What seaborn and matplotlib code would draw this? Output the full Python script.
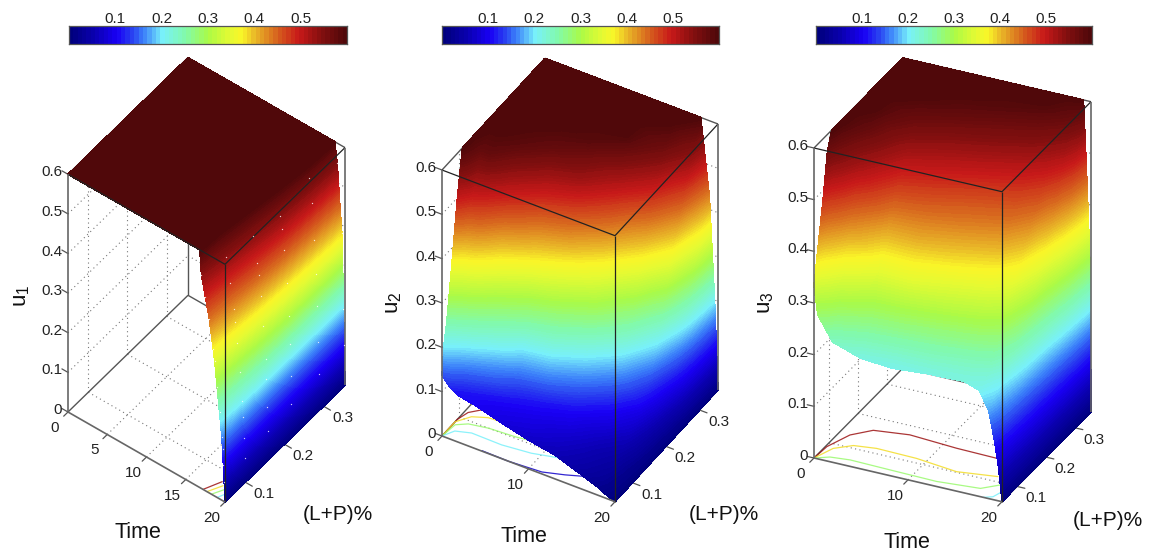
"""Three optimal-control surfaces u1, u2, u3 over time and (L+P)%, MATLAB style box plots."""
import matplotlib.pyplot as plt
import numpy as np
import seaborn as sns
from matplotlib.colors import LinearSegmentedColormap

# scale of the colour bars
color_stops = [0, .05, .1, .13, .16, .2, .25, .3, .35, .375, .4, .45, .5, .55, .6]
color_rgb = [(0, 0, 125), (10, 0, 175), (25, 0, 245), (40, 60, 240), (60, 130, 250), (120, 240, 250),
             (130, 250, 170), (170, 250, 70), (230, 250, 50), (250, 245, 40), (235, 190, 40),
             (215, 100, 30), (200, 25, 25), (130, 15, 15), (80, 8, 10)]
bar_ticks = [.1, .2, .3, .4, .5]
u_ticks = [0, .1, .2, .3, .4, .5, .6]
lp_ticks = [.1, .2, .3]
U_MAX = .6
T_MAX = 20
LP_MIN = .048
LP_MAX = .355

# u1: plateau, then a wall just before t = 20
time_1 = [0, 16.8, 17, 17.5, 18, 18.5, 18.7, 19, 19.3, 19.6, 19.7, 19.8, 19.9, 20]
lp_1 = [.048, .1, .16, .22, .29, .355]
u_1 = [[.6, .6, .6, .6, .6, .6],
       [.6, .6, .6, .6, .6, .6],
       [.54, .6, .6, .6, .6, .6],
       [.49, .54, .6, .6, .6, .6],
       [.44, .48, .54, .6, .6, .6],
       [.37, .42, .48, .54, .6, .6],
       [.34, .39, .45, .51, .57, .6],
       [.28, .34, .40, .46, .51, .55],
       [.22, .27, .33, .38, .42, .46],
       [.16, .20, .25, .30, .34, .38],
       [.13, .16, .20, .23, .26, .29],
       [.09, .11, .13, .15, .17, .19],
       [.05, .06, .07, .08, .09, .10],
       [0, 0, 0, 0, 0, 0]]

lp_grid = [.048, .054, .063, .079, .094, .109, .14, .171, .202, .232, .263, .294, .324, .355]

time_2 = [0, 1, 2, 4, 7, 10, 13, 16, 18, 19, 19.6, 20]
u_2 = [[.137, .2, .25, .375, .5, .6, .6, .6, .6, .6, .6, .6, .6, .6],
       [.115, .15, .2, .31, .41, .49, .58, .6, .6, .6, .6, .6, .6, .6],
       [.105, .11, .15, .26, .375, .46, .58, .6, .6, .6, .6, .6, .6, .6],
       [.097, .1, .105, .17, .25, .34, .49, .585, .6, .6, .6, .6, .6, .6],
       [.08, .085, .09, .105, .145, .195, .375, .49, .58, .6, .6, .6, .6, .6],
       [.065, .07, .08, .09, .105, .16, .28, .42, .53, .59, .6, .6, .6, .6],
       [.054, .055, .06, .07, .085, .1, .19, .31, .42, .51, .6, .6, .6, .6],
       [.033, .035, .04, .045, .05, .06, .1, .18, .27, .38, .49, .57, .6, .6],
       [.018, .02, .025, .03, .035, .04, .06, .09, .14, .22, .35, .45, .54, .6],
       [.008, .01, .012, .015, .018, .02, .03, .04, .06, .09, .16, .26, .36, .43],
       [.003, .004, .005, .006, .007, .008, .012, .015, .02, .03, .06, .09, .13, .2],
       [0, 0, 0, 0, 0, 0, 0, 0, 0, 0, 0, 0, 0, 0]]

time_3 = [0, .4, 2, 5, 8.4, 12, 16, 17.6, 18.6, 19.2, 19.6, 19.9, 20]
u_3 = [[.335, .36, .405, .48, .565, .6, .6, .6, .6, .6, .6, .6, .6, .6],
       [.279, .31, .36, .43, .5, .56, .6, .6, .6, .6, .6, .6, .6, .6],
       [.233, .245, .27, .33, .385, .44, .53, .58, .6, .6, .6, .6, .6, .6],
       [.214, .22, .235, .27, .305, .345, .41, .47, .52, .57, .6, .6, .6, .6],
       [.209, .213, .225, .26, .3, .35, .41, .45, .49, .53, .58, .6, .6, .6],
       [.214, .216, .225, .25, .28, .32, .385, .43, .46, .50, .55, .59, .6, .6],
       [.216, .216, .22, .235, .26, .29, .35, .40, .44, .47, .51, .56, .6, .6],
       [.205, .21, .215, .225, .245, .27, .32, .36, .40, .44, .48, .53, .58, .6],
       [.17, .18, .19, .2, .21, .22, .25, .28, .32, .36, .42, .49, .56, .6],
       [.115, .12, .13, .14, .15, .16, .18, .2, .22, .25, .31, .4, .5, .6],
       [.07, .07, .08, .085, .09, .095, .11, .12, .14, .16, .2, .27, .36, .43],
       [.02, .02, .025, .03, .03, .035, .04, .05, .055, .065, .08, .11, .16, .28],
       [0, 0, 0, 0, 0, 0, 0, 0, 0, 0, 0, 0, 0, 0]]

# floor contours as (level, time, lp)
contours_1 = [(.53, [17.2, 18.1], [.048, .079]),
              (.385, [17.7, 18.5], [.048, .073]),
              (.28, [18.3, 18.9], [.049, .067]),
              (.2, [19, 19.3], [.048, .059])]
contours_2 = [(.53, [0, 0, 0, .38, 1.35], [.048, .076, .094, .116, .132]),
              (.385, [0, 0, 1, 2.5, 4.4], [.048, .087, .110, .121, .123]),
              (.28, [0, .24, 1.3, 3.4, 6.3, 8.4], [.048, .081, .093, .1, .103, .108]),
              (.2, [0, .7, 2.3, 5.8, 9, 12], [.048, .068, .077, .076, .082, .095]),
              (.07, [4.6, 7.7, 11.4, 13.6, 15.7], [.049, .048, .052, .064, .078])]
contours_3 = [(.53, [0, .14, 1.14, 2.76, 6.3, 11.5, 15.8, 17], [.048, .088, .135, .163, .174, .167, .165, .165]),
              (.385, [0, .84, 2.34, 4.6, 8.9, 13.5, 17.5], [.048, .087, .108, .115, .113, .102, .115]),
              (.28, [0, 1.3, 3.3, 7.6, 12.6, 17, 18.4], [.048, .061, .066, .064, .062, .071, .093]),
              (.2, [18, 18.8, 19.1], [.048, .056, .073])]

# pixel geometry of the three boxes: origin is t=0, lp=min, u=0
panels = [
    dict(name="u$_1$", origin=(68, 412), time_vec=(157, 90), lp_vec=(120, -116.7), height=237.7,
         time=time_1, lp=lp_1, u=u_1, contours=contours_1, time_ticks=[0, 5, 10, 15, 20],
         bar=(69, 347), time_pos=(138, 532), lp_pos=(338, 514), u_pos=(22, 296)),
    dict(name="u$_2$", origin=(442, 436), time_vec=(173, 65.7), lp_vec=(103, -111.7), height=266,
         time=time_2, lp=lp_grid, u=u_2, contours=contours_2, time_ticks=[0, 10, 20],
         bar=(442, 719), time_pos=(524, 537), lp_pos=(724, 515), u_pos=(393, 303)),
    dict(name="u$_3$", origin=(814, 458), time_vec=(188, 43.7), lp_vec=(89, -90), height=310,
         time=time_3, lp=lp_grid, u=u_3, contours=contours_3, time_ticks=[0, 10, 20],
         bar=(816, 1092), time_pos=(907, 543), lp_pos=(1108, 521), u_pos=(765, 303)),
]

W, H = 1150, 555


def project(p, t, lp, u):
    s = np.asarray(t, dtype=float) / T_MAX
    r = (np.asarray(lp, dtype=float) - LP_MIN) / (LP_MAX - LP_MIN)
    f = np.asarray(u, dtype=float) / U_MAX
    x = p["origin"][0] + s * p["time_vec"][0] + r * p["lp_vec"][0]
    y = p["origin"][1] + s * p["time_vec"][1] + r * p["lp_vec"][1] - f * p["height"]
    return x, y


def seg(ax, p, a, b, **kw):
    x0, y0 = project(p, *a)
    x1, y1 = project(p, *b)
    ax.plot([x0, x1], [y0, y1], solid_capstyle="butt", **kw)


def draw_colorbar(fig, p, cmap):
    left, right = p["bar"]
    cax = fig.add_axes([left / W, 1 - 44 / H, (right - left) / W, 18 / H])
    levels = np.linspace(0, U_MAX, 64)[None, :]
    sns.heatmap(levels, ax=cax, cmap=cmap, vmin=0, vmax=U_MAX, cbar=False, xticklabels=False, yticklabels=False)
    cax.set_xticks([v / U_MAX * 64 for v in bar_ticks])
    cax.set_xticklabels([f"{v:.1f}" for v in bar_ticks], fontsize=11, color="#222222")
    cax.tick_params(axis="x", top=True, bottom=True, labeltop=True, labelbottom=False,
                    direction="in", length=2.5, width=.7, color="#333333", pad=0)
    for sp in cax.spines.values():
        sp.set_visible(True)
        sp.set_color("#555555")
        sp.set_linewidth(.9)


def draw_box_back(ax, p):
    grid = dict(color="#777777", lw=.8, ls=(0, (1, 3)), zorder=1)
    for t in p["time_ticks"][1:-1]:
        seg(ax, p, (t, LP_MIN, 0), (t, LP_MAX, 0), **grid)
        seg(ax, p, (t, LP_MAX, 0), (t, LP_MAX, U_MAX), **grid)
    for lp in lp_ticks:
        seg(ax, p, (0, lp, 0), (T_MAX, lp, 0), **grid)
        seg(ax, p, (0, lp, 0), (0, lp, U_MAX), **grid)
    for u in u_ticks[1:-1]:
        seg(ax, p, (0, LP_MIN, u), (0, LP_MAX, u), **grid)
        seg(ax, p, (0, LP_MAX, u), (T_MAX, LP_MAX, u), **grid)
    line = dict(color="#555555", lw=1.0, zorder=1)
    seg(ax, p, (0, LP_MIN, 0), (0, LP_MAX, 0), **line)
    seg(ax, p, (0, LP_MAX, 0), (T_MAX, LP_MAX, 0), **line)
    seg(ax, p, (0, LP_MAX, 0), (0, LP_MAX, U_MAX), **line)
    seg(ax, p, (0, LP_MIN, U_MAX), (0, LP_MAX, U_MAX), **line)
    seg(ax, p, (0, LP_MAX, U_MAX), (T_MAX, LP_MAX, U_MAX), **line)
    seg(ax, p, (T_MAX, LP_MIN, 0), (T_MAX, LP_MAX, 0), **line)


def draw_box_front(ax, p):
    front = dict(color="#222222", lw=.9, zorder=4)
    seg(ax, p, (T_MAX, LP_MIN, 0), (T_MAX, LP_MIN, U_MAX), **front)
    seg(ax, p, (0, LP_MIN, U_MAX), (T_MAX, LP_MIN, U_MAX), **front)
    seg(ax, p, (T_MAX, LP_MIN, U_MAX), (T_MAX, LP_MAX, U_MAX), **front)
    axis = dict(color="#666666", lw=1.2, zorder=4)
    seg(ax, p, (0, LP_MIN, 0), (0, LP_MIN, U_MAX), **axis)
    seg(ax, p, (T_MAX, LP_MAX, 0), (T_MAX, LP_MAX, U_MAX), **axis)
    seg(ax, p, (0, LP_MIN, 0), (T_MAX, LP_MIN, 0), **axis)


def draw_ticks(ax, p):
    tv = np.array(p["time_vec"]) / np.hypot(*p["time_vec"])
    lv = np.array(p["lp_vec"]) / np.hypot(*p["lp_vec"])
    text = dict(fontsize=11, color="#222222")
    tick = dict(color="#555555", lw=.9)
    for u in u_ticks:
        x, y = project(p, 0, LP_MIN, u)
        ax.plot([x, x - 7 * tv[0]], [y, y - 7 * tv[1]], **tick)
        ax.text(x - 6, y - 2, f"{u:g}", ha="right", va="center", **text)
    for t in p["time_ticks"]:
        x, y = project(p, t, LP_MIN, 0)
        ax.plot([x, x - 6 * lv[0]], [y, y - 6 * lv[1]], **tick)
        ax.text(x - 13, y + 16, f"{t:g}", ha="center", va="center", **text)
    for lp in lp_ticks:
        x, y = project(p, T_MAX, lp, 0)
        ax.plot([x, x + 8 * tv[0]], [y, y + 8 * tv[1]], **tick)
        ax.text(x + 19, y + 12, f"{lp:g}", ha="center", va="center", **text)
    ax.text(*p["time_pos"], "Time", ha="center", va="center", fontsize=15.5, color="#111111")
    ax.text(*p["lp_pos"], "(L+P)%", ha="center", va="center", fontsize=15, color="#111111")
    ax.text(*p["u_pos"], p["name"], ha="center", va="center", rotation=90, fontsize=16, color="#111111")


def draw_surface(ax, p, cmap):
    lp = np.array(p["lp"], dtype=float)[::-1]
    t = np.array(p["time"], dtype=float)
    u = np.array(p["u"], dtype=float)[:, ::-1]
    tt, ll = np.meshgrid(t, lp, indexing="ij")
    x, y = project(p, tt, ll, u)
    # the bands follow u exactly, fine enough to read as a smooth shade
    bands = np.linspace(0, U_MAX, 129)
    bands[0], bands[-1] = -.001, U_MAX + .001
    filled = ax.contourf(x, y, u, levels=bands, cmap=cmap, vmin=0, vmax=U_MAX, zorder=3)
    filled.set_edgecolor("face")
    filled.set_linewidth(.4)


def main():
    sns.set_theme(style="white")
    plt.rcParams["font.family"] = ["Liberation Sans", "DejaVu Sans"]
    plt.rcParams["mathtext.default"] = "regular"
    cmap = LinearSegmentedColormap.from_list(
        "jet_scan", [(v / U_MAX, tuple(c / 255 for c in rgb)) for v, rgb in zip(color_stops, color_rgb)])

    fig = plt.figure(figsize=(W / 100, H / 100), dpi=100)
    ax = fig.add_axes([0, 0, 1, 1])
    ax.axis("off")

    for p in panels:
        draw_box_back(ax, p)
        for level, t, lp in p["contours"]:
            x, y = project(p, t, lp, np.zeros(len(t)))
            ax.plot(x, y, color=cmap(level / U_MAX), lw=.9, alpha=.85, zorder=2)
        draw_surface(ax, p, cmap)
        draw_box_front(ax, p)
        draw_ticks(ax, p)
        draw_colorbar(fig, p, cmap)

    # pinholes in the u1 wall
    p = panels[0]
    tt, ll = np.meshgrid(time_1[2:-1], lp_1, indexing="ij")
    wall = np.array(u_1)[2:-1]
    x, y = project(p, tt, ll, wall)
    keep = wall.ravel() < .58
    ax.scatter(x.ravel()[keep], y.ravel()[keep], s=.9, color="white", alpha=.8, linewidths=0, zorder=6)

    ax.set_xlim(0, W)
    ax.set_ylim(H, 0)
    fig.savefig("out.png", dpi=100)
    plt.close(fig)


if __name__ == "__main__":
    main()
